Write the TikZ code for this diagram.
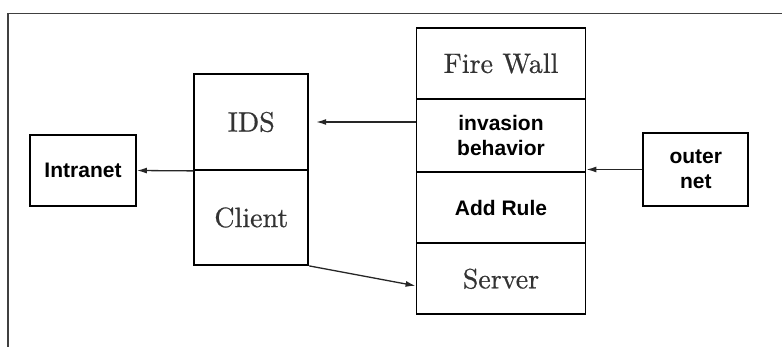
\documentclass[tikz,border=0pt]{standalone}
\usepackage{fontspec}
\newfontfamily\boldsans[Scale=1.0]{Liberation Sans}
\newfontfamily\serifcm[FakeBold=0.6]{lmroman10-regular.otf}
\usetikzlibrary{arrows.meta}
\definecolor{serifgray}{HTML}{333333}
\tikzset{
  cell/.style={draw=black, line width=1.8pt, inner sep=0pt, align=center},
  seriflabel/.style={font=\serifcm\fontsize{28}{30}\selectfont, text=serifgray},
  sanslabel/.style={font=\boldsans\bfseries\fontsize{21}{25}\selectfont, text=black},
  arr/.style={draw=black!85, line width=1.3pt, -{Latex[length=10pt,width=6pt]}},
  frameline/.style={draw=black!75, line width=1.5pt}
}
\begin{document}
\begin{tikzpicture}[x=1pt,y=-1pt]
\useasboundingbox (0,0) rectangle (782,347);
\draw[frameline] (8,347) -- (8,13.5) -- (782,13.5);
% right stack
\node[cell, seriflabel, minimum width=169pt, minimum height=71pt] (fw) at (501,63.5) {Fire Wall};
\node[cell, sanslabel, minimum width=169pt, minimum height=72.5pt] (inv) at (501,135.3) {invasion\\behavior};
\node[cell, sanslabel, minimum width=169pt, minimum height=71.5pt] (add) at (501,207.5) {Add Rule};
\node[cell, seriflabel, minimum width=169pt, minimum height=71pt] (srv) at (501,278.8) {Server};
% IDS / Client
\node[cell, seriflabel, minimum width=114pt, minimum height=96pt] (ids) at (251.3,122) {IDS};
\node[cell, seriflabel, minimum width=114pt, minimum height=95pt] (cli) at (251.3,217.5) {Client};
% Intranet
\node[cell, sanslabel, minimum width=106pt, minimum height=71pt] (intra) at (83,170.5) {Intranet};
% outer net
\node[cell, sanslabel, minimum width=105pt, minimum height=72.4pt] (outer) at (695.8,169.5) {outer\\net};
% connectors
\draw[arr] (outer.west) -- (outer.west -| inv.east);
\draw[arr, shorten >=7pt] (inv.west |- ids.east) -- (ids.east);
\draw[arr] (ids.south west) -- (intra.east);
\draw[arr] (cli.south east) -- ([yshift=-7pt]srv.west);
\end{tikzpicture}
\end{document}
